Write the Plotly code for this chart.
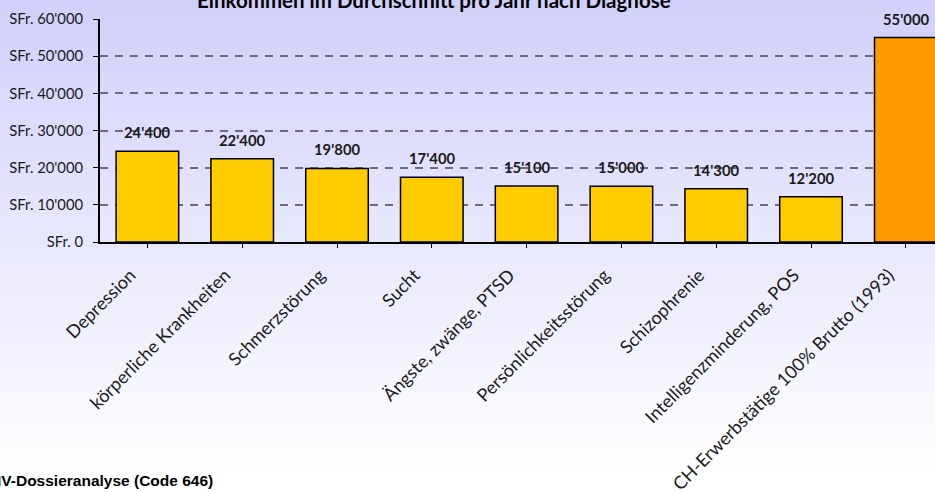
import plotly.graph_objects as go

categories = [
    "Depression",
    "körperliche Krankheiten",
    "Schmerzstörung",
    "Sucht",
    "Ängste, zwänge, PTSD",
    "Persönlichkeitsstörung",
    "Schizophrenie",
    "Intelligenzminderung, POS",
    "CH-Erwerbstätige 100% Brutto (1993)",
]
values = [24400, 22400, 19800, 17400, 15100, 15000, 14300, 12200, 55000]
value_labels = ["24'400", "22'400", "19'800", "17'400", "15'100", "15'000", "14'300", "12'200", "55'000"]
bar_colors = ["#FFCC00"] * 8 + ["#FF9900"]
y_tickvals = [0, 10000, 20000, 30000, 40000, 50000, 60000]
y_ticktext = ["SFr. 0", "SFr. 10'000", "SFr. 20'000", "SFr. 30'000", "SFr. 40'000", "SFr. 50'000", "SFr. 60'000"]

W, H = 935, 492
ML, MT, MB, MR = 100, 19, 250, 0
pw = W - ML - MR
ph = H - MT - MB

fig = go.Figure()
fig.add_trace(go.Bar(
    x=list(range(len(categories))),
    y=values,
    marker=dict(color=bar_colors, line=dict(color="#000000", width=1.5)),
    width=0.66,
    hoverinfo="skip",
))

# gradient background strips
shapes = []
n = 80
top = (208, 208, 250)
end_y = 470
for i in range(n):
    y0 = H * i / n
    y1 = H * (i + 1) / n
    t = min(1.0, ((y0 + y1) / 2) / end_y)
    c = tuple(int(round(a + (255 - a) * t)) for a in top)
    shapes.append(dict(
        type="rect", xref="paper", yref="paper", layer="below",
        x0=(0 - ML) / pw - 0.01, x1=(W - ML) / pw + 0.01,
        y0=(H - MB - y1) / ph, y1=(H - MB - y0) / ph + 0.003,
        fillcolor="rgb(%d,%d,%d)" % c, line=dict(width=0),
    ))

annotations = []
for i, (v, lab) in enumerate(zip(values, value_labels)):
    annotations.append(dict(
        x=i, y=v, xref="x", yref="y", text="<b>%s</b>" % lab, showarrow=False,
        yanchor="bottom", yshift=8, font=dict(family="Lato", size=14.8, color="#1a1a1a"),
    ))

annotations.append(dict(
    x=(-5 - ML) / pw, y=(H - MB - 480.5) / ph, xref="paper", yref="paper",
    xanchor="left", yanchor="middle", showarrow=False,
    text="<b>IV-Dossieranalyse (Code 646)</b>",
    font=dict(family="Liberation Sans", size=15.5, color="#000000"),
))
annotations.append(dict(
    x=(434 - ML) / pw, y=(H - MB - 0) / ph, xref="paper", yref="paper",
    xanchor="center", yanchor="middle", showarrow=False,
    text="<b>Einkommen im Durchschnitt pro Jahr nach Diagnose</b>",
    font=dict(family="Lato", size=20.5, color="#000000"),
))

cat_w = 94.8
x_max = -0.5 + pw / cat_w

fig.update_layout(
    width=W, height=H,
    margin=dict(l=ML, r=MR, t=MT, b=MB, pad=0, autoexpand=False),
    paper_bgcolor="white",
    plot_bgcolor="rgba(0,0,0,0)",
    showlegend=False,
    shapes=shapes,
    annotations=annotations,
    font=dict(family="Lato", color="#1a1a1a"),
    xaxis=dict(
        range=[-0.5, x_max],
        automargin=False,
        tickmode="array",
        tickvals=list(range(len(categories))),
        ticktext=categories,
        tickangle=-45,
        tickson="boundaries",
        ticks="outside", ticklen=4, tickcolor="#000000", tickwidth=1,
        showline=True, linecolor="#000000", linewidth=1.5,
        showgrid=False, zeroline=False,
        tickfont=dict(family="Lato", size=18, color="#1a1a1a"),
        ticklabelstandoff=10,
        ticklabelshift=-17,
    ),
    yaxis=dict(
        range=[0, 60000],
        automargin=False,
        tickmode="array",
        tickvals=y_tickvals,
        ticktext=y_ticktext,
        ticks="outside", ticklen=5, tickcolor="#000000", tickwidth=1,
        showline=True, linecolor="#000000", linewidth=1.8,
        showgrid=True, gridcolor="#6b6b7b", gridwidth=2, griddash="8px,7px",
        zeroline=False,
        tickfont=dict(family="Lato", size=14.8, color="#1a1a1a"),
        ticklabelstandoff=7,
    ),
)

fig.write_html(
    "out.html",
    config={"displayModeBar": False},
    post_script="document.body.style.margin='0';document.body.style.overflow='hidden';",
)
